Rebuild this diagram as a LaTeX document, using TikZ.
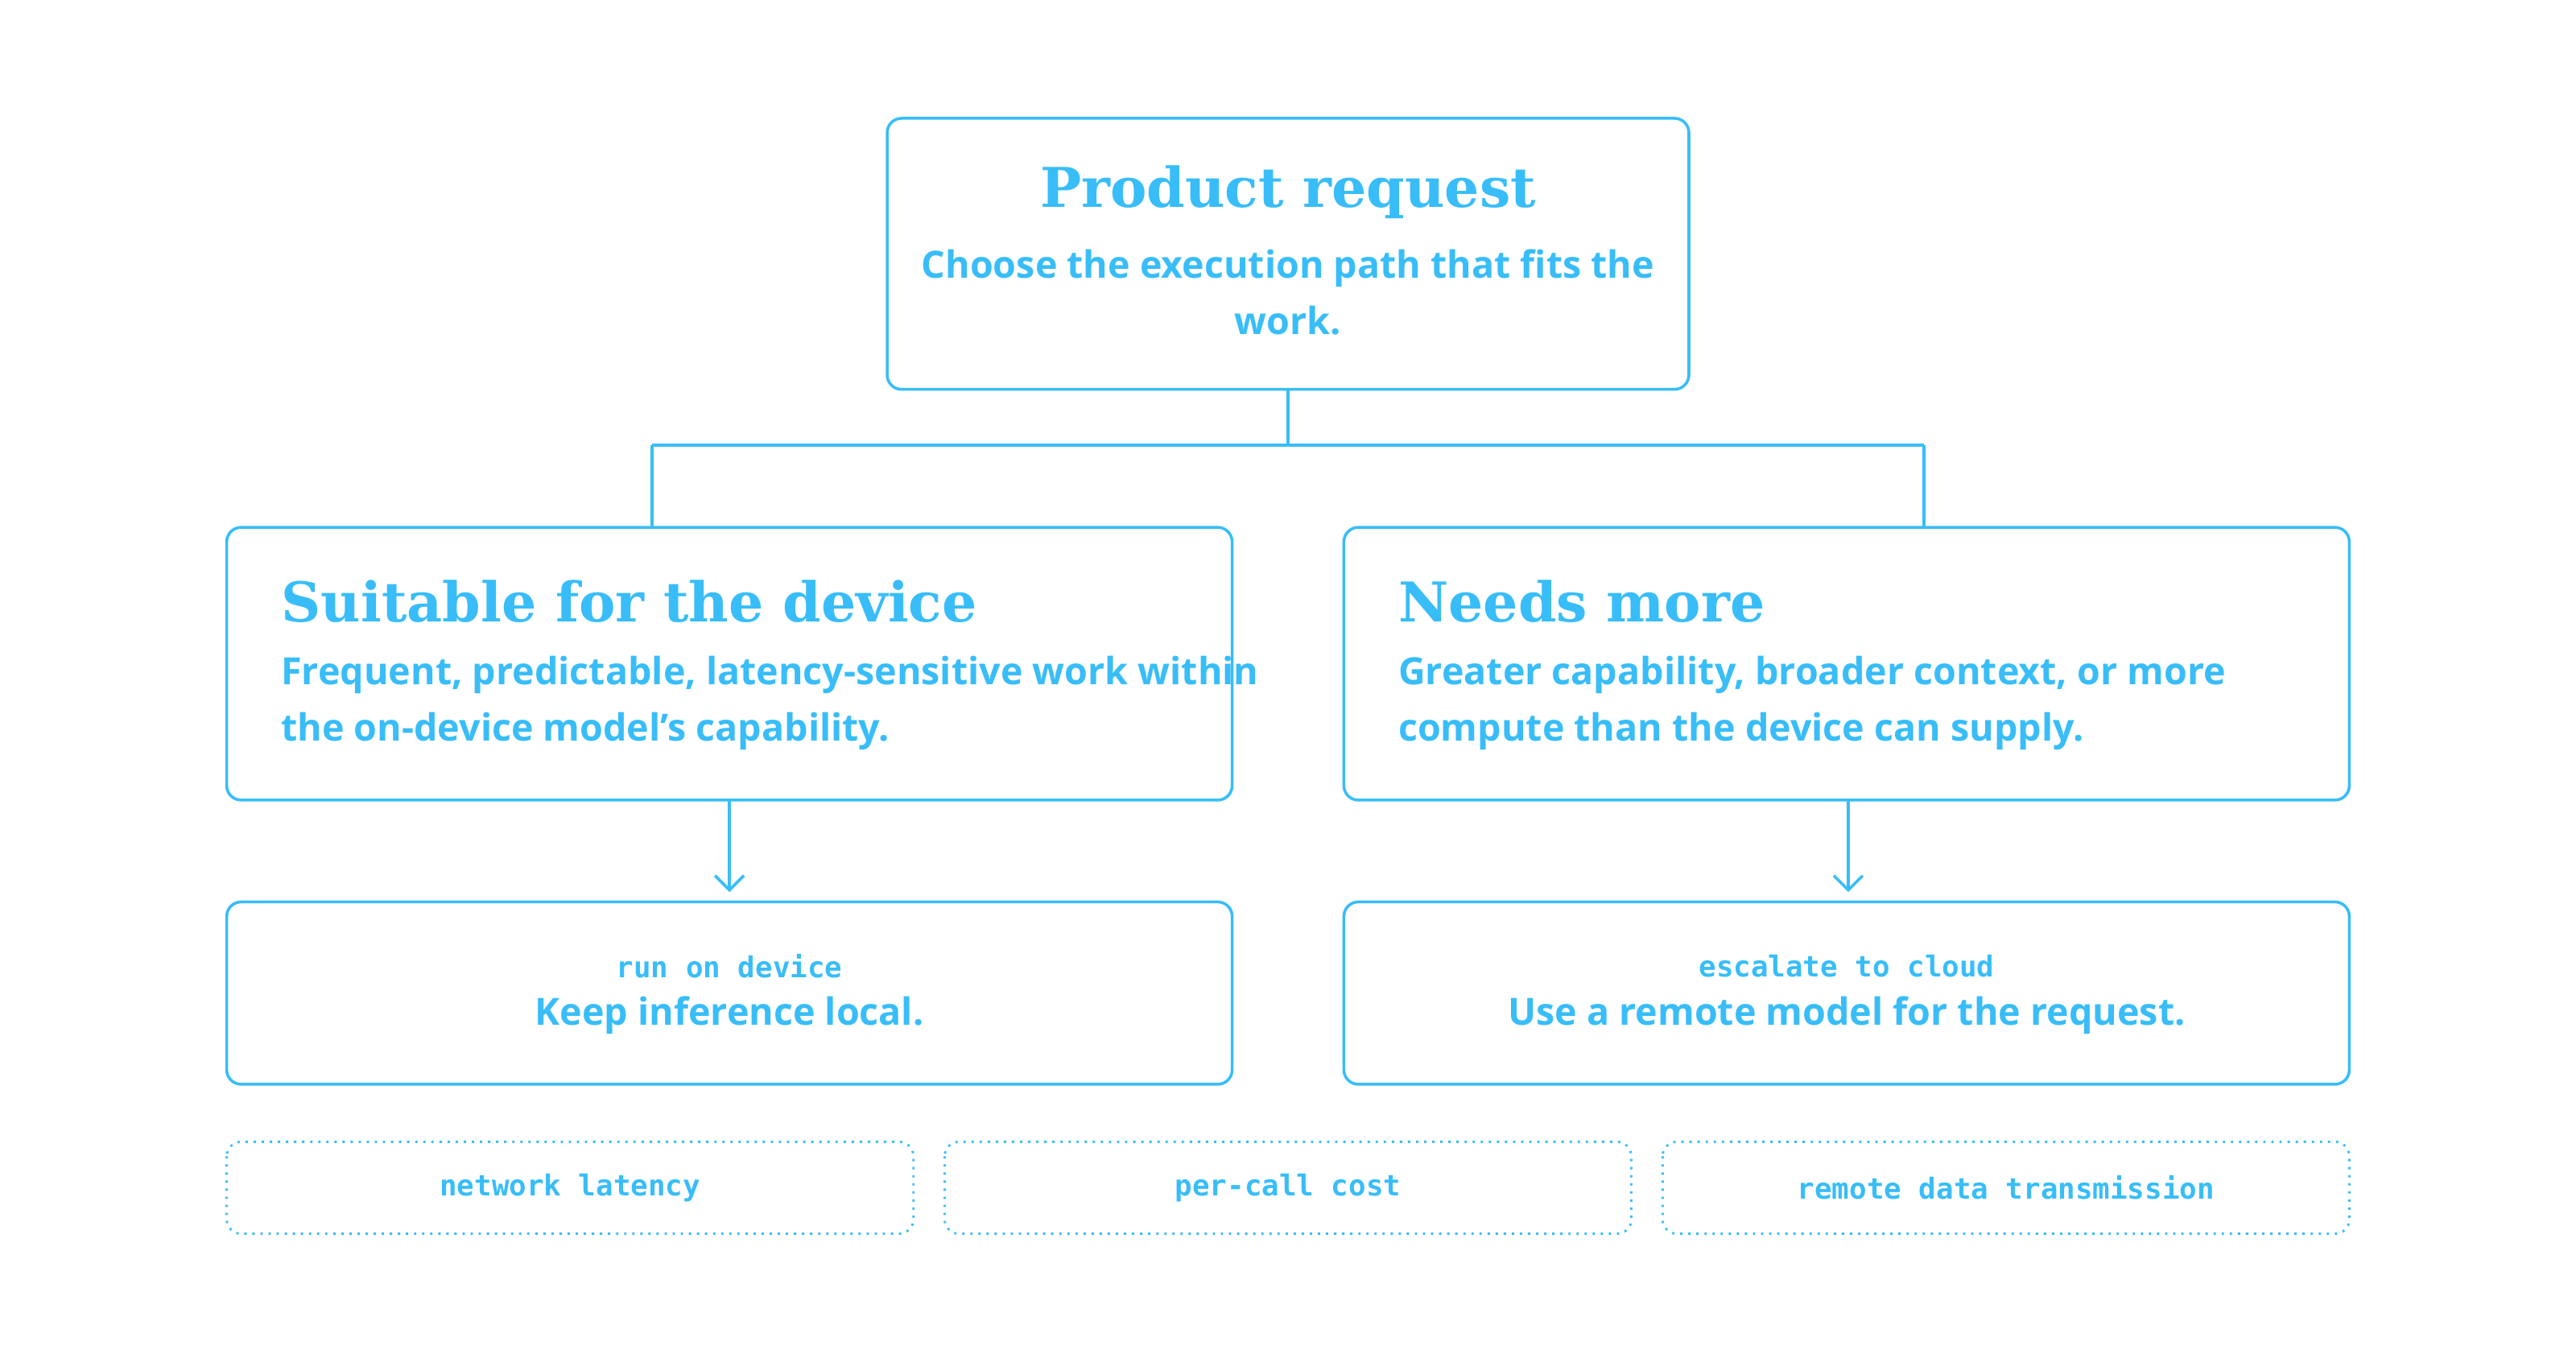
\documentclass[tikz,border=0pt]{standalone}
\usepackage{fontspec}
\setmainfont{DejaVu Serif}
\setsansfont{Open Sans}
\setmonofont{DejaVu Sans Mono}
\definecolor{sky}{HTML}{38BDF8}
\begin{document}
\begin{tikzpicture}[x=0.02cm,y=-0.02cm,
  box/.style={draw=sky,line width=1pt,rounded corners=5pt},
  dbox/.style={draw=sky,line width=0.8pt,dotted,rounded corners=5pt},
  ttl/.style={text=sky,font=\rmfamily\bfseries\fontsize{19}{22}\selectfont},
  body/.style={text=sky,font=\sffamily\bfseries\fontsize{13}{19.5}\selectfont},
  mono/.style={text=sky,font=\ttfamily\bfseries\fontsize{10}{12}\selectfont},
  con/.style={draw=sky,line width=1pt},
  arr/.style={con,-{Straight Barb[length=5pt,width=10pt]}}]
\useasboundingbox (0,0) rectangle (1568,824);
\usetikzlibrary{arrows.meta}
% boxes
\draw[box] (540,72) rectangle (1028,237);
\node[ttl] (t1) at (784,117) {Product request};
\node[body,align=center] (t2) at (784,178) {Choose the execution path that fits the\\work.};
\draw[box] (138,321) rectangle (750,487);
\node[ttl,anchor=west] (l1) at (165,366) {Suitable for the device};
\node[body,align=left,anchor=west] (l2) at (165,428) {Frequent, predictable, latency-sensitive work within\\the on-device model’s capability.};
\draw[box] (818,321) rectangle (1430,487);
\node[ttl,anchor=west] (r1) at (845,366) {Needs more};
\node[body,align=left,anchor=west] (r2) at (845,428) {Greater capability, broader context, or more\\compute than the device can supply.};
\draw[box] (138,549) rectangle (750,660);
\node[mono] (lm) at (444,588) {run on device};
\node[body] (lt) at (444,618) {Keep inference local.};
\draw[box] (818,549) rectangle (1430,660);
\node[mono] (rm) at (1124,588) {escalate to cloud};
\node[body] (rt) at (1124,618) {Use a remote model for the request.};
\draw[dbox] (138,695) rectangle (556,751);
\node[mono] (d1) at (347,723) {network latency};
\draw[dbox] (575,695) rectangle (993,751);
\node[mono] (d2) at (784,723) {per-call cost};
\draw[dbox] (1012,695) rectangle (1430,751);
\node[mono] (d3) at (1221,723) {remote data transmission};
% connectors
\coordinate (a) at (784,237);
\coordinate (j) at (784,271);
\coordinate (jl) at (397,271);
\coordinate (jr) at (1171,271);
\coordinate (bl) at (397,321);
\coordinate (br) at (1171,321);
\draw[con] (a) -- (j) (jl) -- (jr) (jl) -- (bl) (jr) -- (br);
\coordinate (s1) at (444,487);
\coordinate (e1) at (444,543);
\coordinate (s2) at (1125,487);
\coordinate (e2) at (1125,543);
\draw[arr] (s1) -- (e1);
\draw[arr] (s2) -- (e2);
\end{tikzpicture}
\end{document}
